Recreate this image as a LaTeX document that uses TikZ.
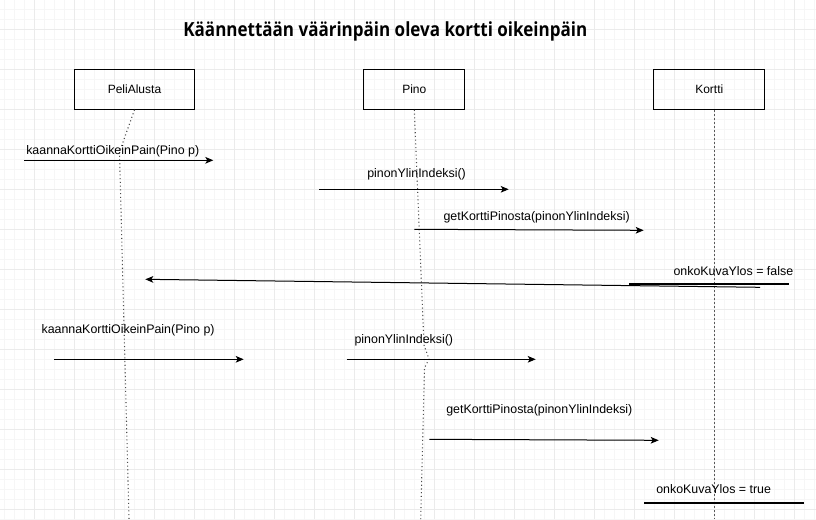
\documentclass[tikz,border=0pt]{standalone}
\usepackage{fontspec}
\setmainfont{Liberation Sans}
\newfontfamily\otsikkofont{Open Sans}
\usetikzlibrary{arrows.meta, positioning}
\tikzset{x=0.75pt, y=-0.75pt, % one unit is one pixel of the sketch
>={Stealth[length=6pt, width=5pt, inset=1.5pt]}, % drawio-like heads
olio/.style={draw, line width=0.75pt, minimum height=30pt, font=\fontsize{9}{11}\selectfont},
viesti/.style={->, line width=0.75pt},
paluu/.style={line width=1.6pt}, % the thick return bar
elama/.style={dotted, line width=0.8pt, gray!60!black},
teksti/.style={anchor=base west, inner sep=0pt, font=\fontsize{9.3}{11}\selectfont},
}
\begin{document}
\begin{tikzpicture}
  \useasboundingbox (0,0) rectangle (816,519);
  % grid of the sketch
  \foreach \i in {0,...,81} \draw[gray!7] ({4.3+10*\i},0) -- ({4.3+10*\i},519);
  \foreach \i in {0,...,51} \draw[gray!7] (0,{9.3+10*\i}) -- (816,{9.3+10*\i});
  \foreach \i in {0,...,19} \draw[gray!16] ({34.3+40*\i},0) -- ({34.3+40*\i},519);
  \foreach \i in {0,...,12} \draw[gray!16] (0,{29.3+40*\i}) -- (816,{29.3+40*\i});

  \node[anchor=base, font=\otsikkofont\bfseries\fontsize{14.6}{16}\selectfont] (otsikko) at (385.3,36.7) {\scalebox{0.874}[1]{Käännettään väärinpäin oleva kortti oikeinpäin}};

  \node[olio, minimum width=90pt] (pa) at (134.5,89.3) {PeliAlusta};
  \node[olio, minimum width=75.75pt] (pino) at (414.3,89.3) {Pino};
  \node[olio, minimum width=83pt] (kortti) at (709.3,89.3) {Kortti};

  % lifelines
  \coordinate (pa1) at (119.5,152);   \coordinate (pa2) at (129,519);
  \coordinate (pi1) at (424,345);     \coordinate (pi2) at (429,359);
  \coordinate (pi3) at (424.5,368);   \coordinate (pi4) at (420.7,519);
  \coordinate (ko1) at (714.3,110);   \coordinate (ko2) at (714.3,519);
  \draw[elama] (pa.south) -- (pa1) -- (pa2);
  \draw[elama] (pino.south) -- (pi1) -- (pi2) -- (pi3) -- (pi4);
  \draw[dash pattern=on 1.5pt off 1.5pt, line width=0.75pt, gray!70!black] (ko1) -- (ko2);

  % first round
  \coordinate (a1) at (24.3,160.3);   \coordinate (b1) at (213.3,160.3);
  \coordinate (a2) at (319.3,189.3);  \coordinate (b2) at (508.7,189.3);
  \coordinate (a3) at (414.3,229.3);  \coordinate (b3) at (643.7,230.3);
  \coordinate (a4) at (760,287.3);    \coordinate (b4) at (145.3,279.3);
  \coordinate (c4) at (629,283.7);    \coordinate (d4) at (789,283.7);
  \draw[viesti] (a1) -- (b1);
  \draw[viesti] (a2) -- (b2);
  \draw[viesti] (a3) -- (b3);
  \draw[viesti] (a4) -- (b4);
  \draw[paluu] (c4) -- (d4);
  \node[teksti] (t1) at (26,154.3) {kaannaKorttiOikeinPain(Pino p)};
  \node[teksti] (t2) at (367,177.5) {pinonYlinIndeksi()};
  \node[teksti] (t3) at (443.3,220) {getKorttiPinosta(pinonYlinIndeksi)};
  \node[teksti] (t4) at (673.3,275.7) {onkoKuvaYlos = false};

  % second round
  \coordinate (a5) at (54.3,359.3);   \coordinate (b5) at (243.7,359.3);
  \coordinate (a6) at (346.7,359.3);  \coordinate (b6) at (535.7,359.3);
  \coordinate (a7) at (429.3,439.3);  \coordinate (b7) at (658.7,440.3);
  \coordinate (c8) at (644,503.3);    \coordinate (d8) at (803.7,503.3);
  \draw[viesti] (a5) -- (b5);
  \draw[viesti] (a6) -- (b6);
  \draw[viesti] (a7) -- (b7);
  \draw[paluu] (c8) -- (d8);
  \node[teksti] (t5) at (41.3,333.3) {kaannaKorttiOikeinPain(Pino p)};
  \node[teksti] (t6) at (354.3,343.3) {pinonYlinIndeksi()};
  \node[teksti] (t7) at (446,413.3) {getKorttiPinosta(pinonYlinIndeksi)};
  \node[teksti] (t8) at (656,493.3) {onkoKuvaYlos = true};
\end{tikzpicture}
\end{document}
